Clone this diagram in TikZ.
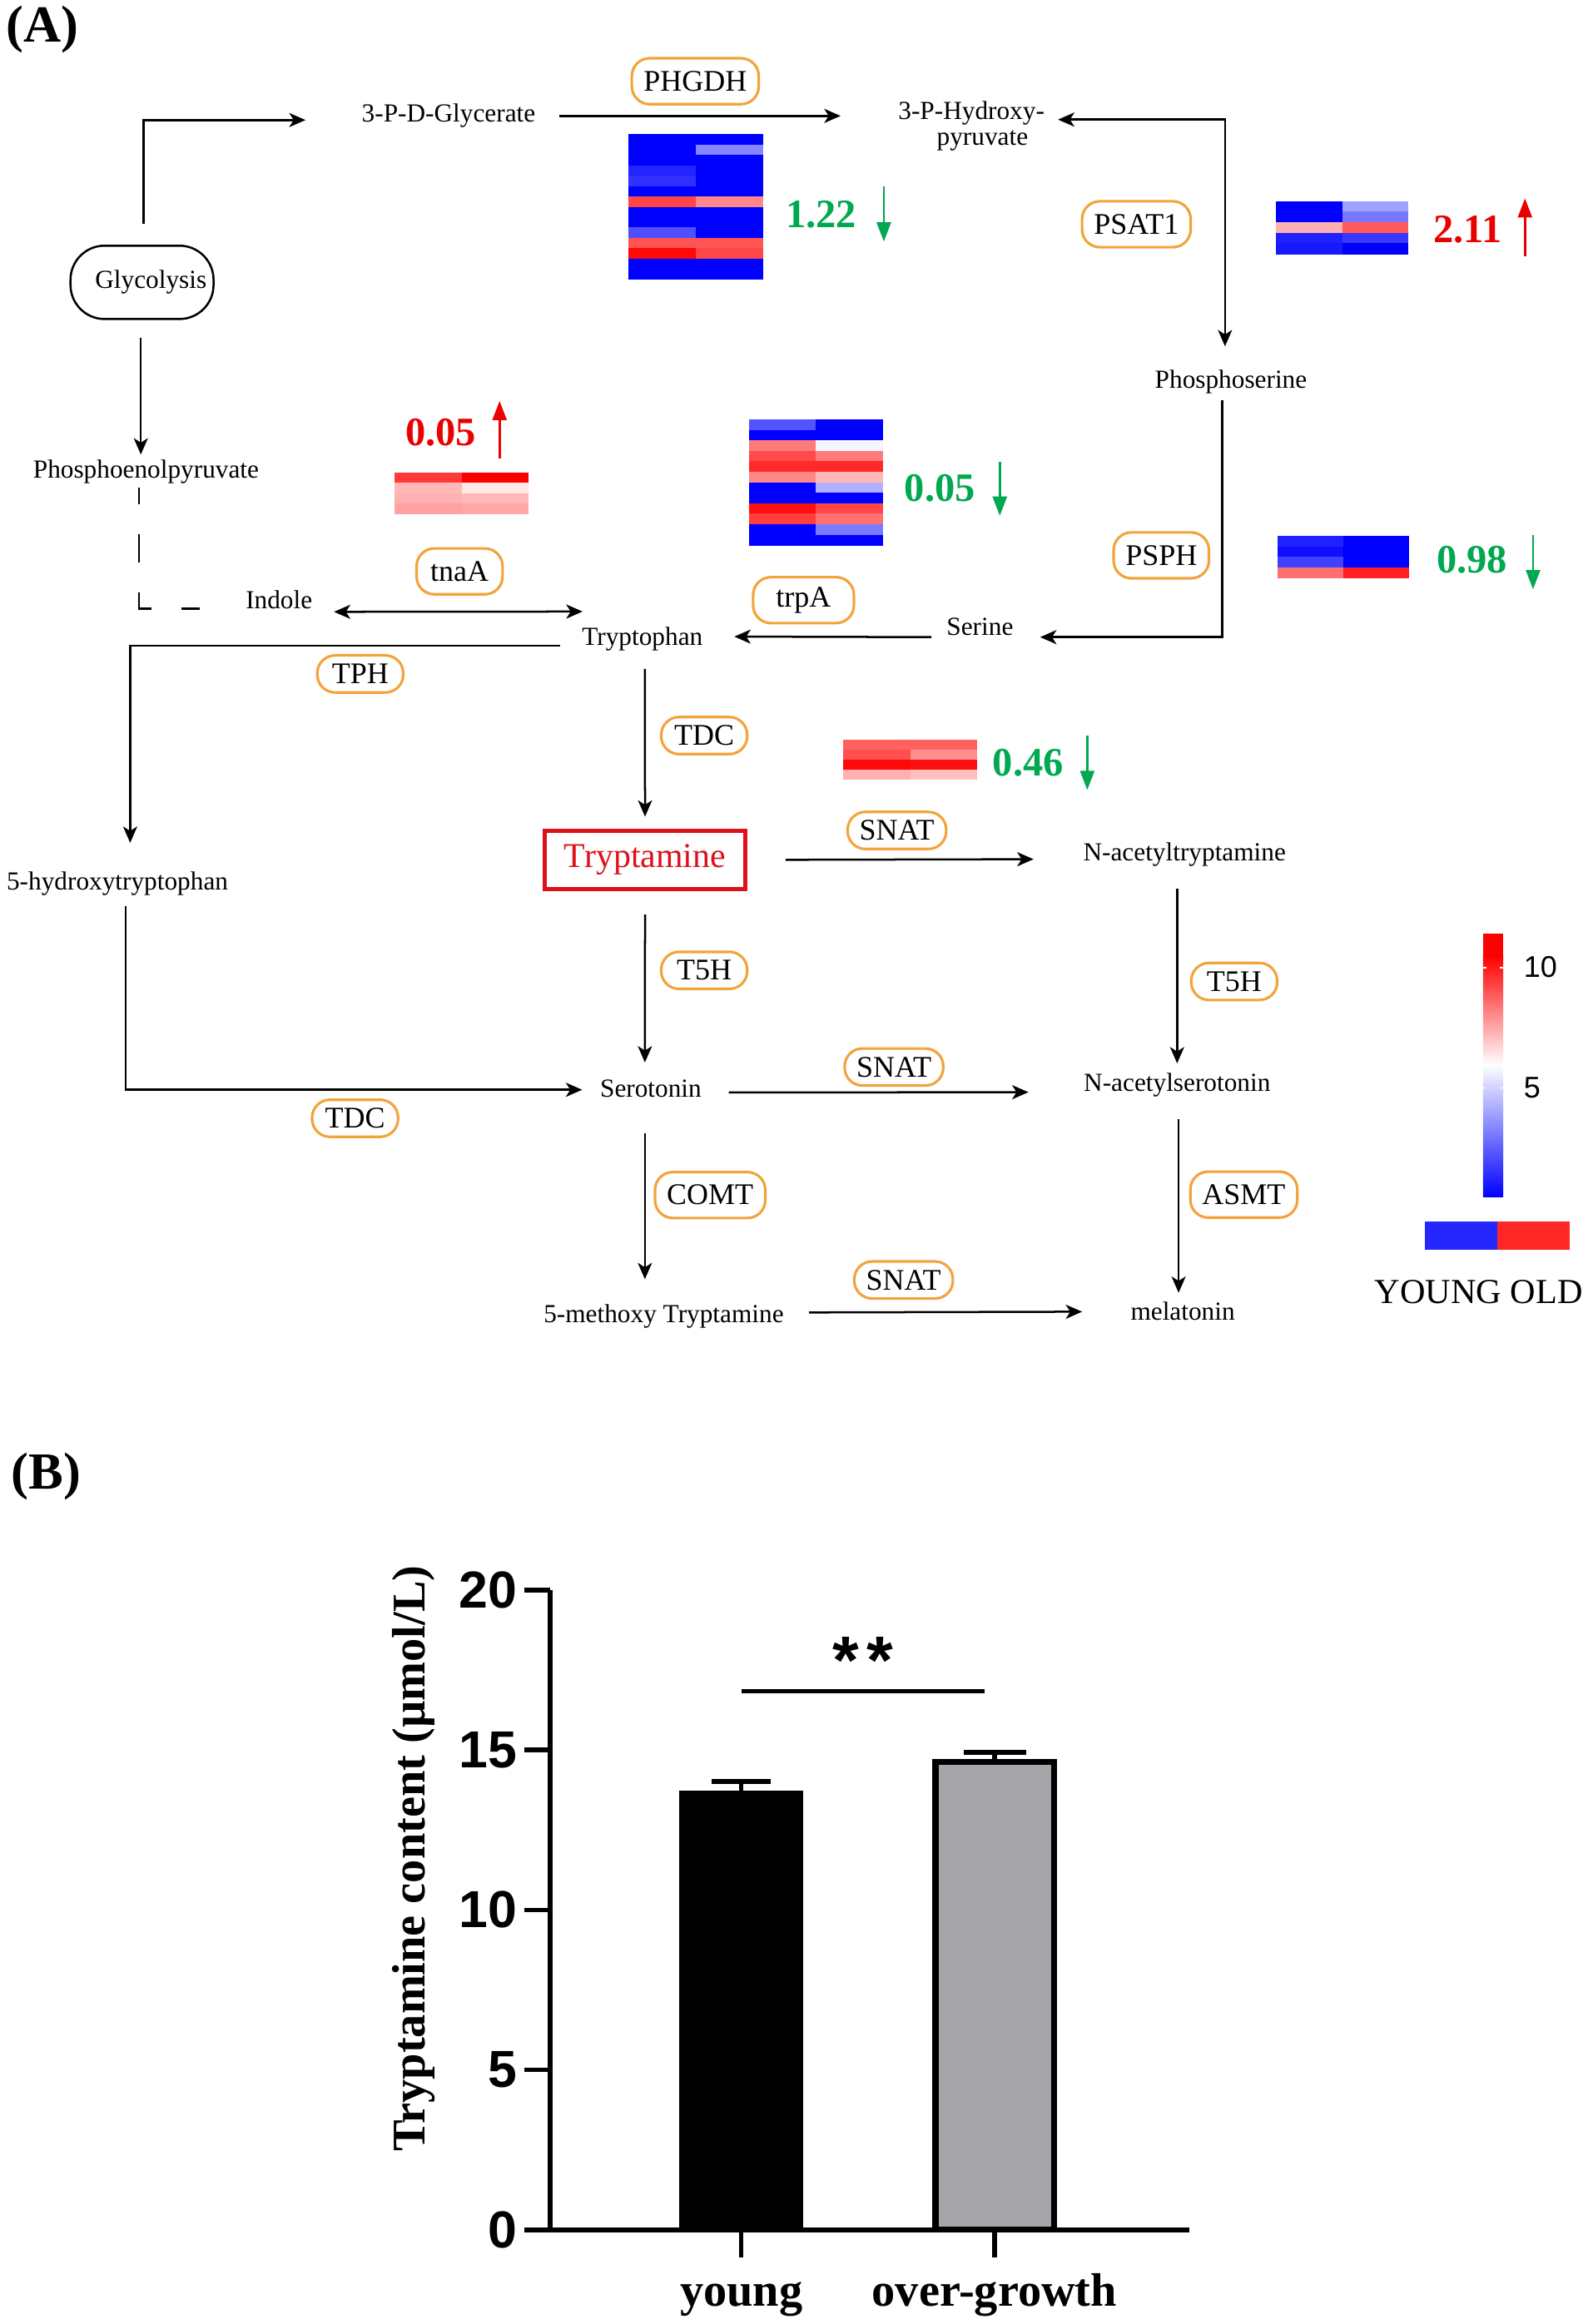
\documentclass[tikz,border=0pt]{standalone}
\usepackage{fontspec}
\setmainfont{Liberation Serif}
\setsansfont{Liberation Sans}
\usetikzlibrary{arrows.meta,calc}
\definecolor{vgreen}{RGB}{0,168,80}
\definecolor{vred}{RGB}{235,0,0}
\definecolor{orng}{RGB}{242,163,60}
\definecolor{tred}{RGB}{222,16,26}
\definecolor{lgblue}{RGB}{38,38,255}
\definecolor{lgred}{RGB}{255,38,38}
\definecolor{bargray}{RGB}{165,165,170}
\newcommand{\heatmap}[5]{%
  \foreach \cl/\cr [count=\i from 0] in {#5}{%
    \fill[\cl] (#1,#2+\i*#4) rectangle (#1+#3/2+0.3,#2+\i*#4+#4+0.3);
    \fill[\cr] (#1+#3/2,#2+\i*#4) rectangle (#1+#3,#2+\i*#4+#4+0.3);
  }%
}
\begin{document}
\begin{tikzpicture}[x=0.02cm,y=-0.02cm,
    >={Stealth[length=2.2mm,width=1.9mm,inset=0.6mm]},
    met/.style={inner sep=0pt,anchor=base,font=\fontsize{10}{10}\selectfont},
    enz/.style={draw=orng,line width=1pt,rounded corners=2.4mm,inner xsep=1.6mm,inner ysep=0pt,
      minimum width=11.6mm,minimum height=6.2mm,font=\fontsize{11.5}{11.5}\selectfont},
    enzs/.style={enz,minimum height=5mm},
    arr/.style={->,line width=0.8pt},
    dashln/.style={line width=0.8pt,dash pattern=on 3.8mm off 4.1mm,dash phase=1.6mm},
    val/.style={inner sep=0pt,font=\fontsize{15.5}{15.5}\selectfont\bfseries},
    varr/.style={-{Triangle[length=2.6mm,width=1.9mm]},line width=0.9pt},
    axline/.style={line width=0.62mm},
    panel/.style={inner sep=0pt,font=\fontsize{20}{20}\selectfont\bfseries}]
  \useasboundingbox (0,0) rectangle (1074,1568);

  \node[panel] (lbla) at (28.6,20.1) {(A)};
  \node[panel] (lblb) at (31,996.3) {(B)};

  \node[draw,line width=0.8pt,rounded corners=4.6mm,minimum width=19.3mm,minimum height=9.9mm,
    inner sep=0pt,font=\fontsize{10}{10}\selectfont] (glyc) at (95.8,190.5) {\hspace*{2.4mm}Glycolysis};
  \node[met] (gly) at (302.6,82.4) {3-P-D-Glycerate};
  \node[met,anchor=west,align=left] (hp) at (605.6,85.2) {3-P-Hydroxy-\\\hspace*{5.2mm}pyruvate};
  \node[met] (ps) at (830.3,262) {Phosphoserine};
  \node[met] (pep) at (98.5,322.8) {Phosphoenolpyruvate};
  \node[met] (ind) at (188.2,410.8) {Indole};
  \node[met] (trp) at (433.3,435.5) {Tryptophan};
  \node[met] (ser) at (661,428.6) {Serine};
  \node[met] (htp) at (79.2,600.5) {5-hydroxytryptophan};
  \node[draw=tred,line width=1.5pt,minimum width=27.1mm,minimum height=7.85mm,inner sep=0pt,
    text=tred,font=\fontsize{13.4}{13.4}\selectfont] (tpm) at (435.1,580.1) {Tryptamine};
  \node[met] (nat) at (799,581) {N-acetyltryptamine};
  \node[met] (sero) at (439,740) {Serotonin};
  \node[met] (nas) at (794,736.3) {N-acetylserotonin};
  \node[met] (mtt) at (447.7,892.6) {5-methoxy Tryptamine};
  \node[met] (mel) at (797.8,890.4) {melatonin};

  \node[enz] (phgdh) at (469,54.8) {PHGDH};
  \node[enz] (psat) at (766.5,151.3) {PSAT1};
  \node[enz] (tnaa) at (310,385.5) {tnaA};
  \node[enz,minimum width=13.6mm] (trpa) at (542,404.9) {trpA};
  \node[enz] (psph) at (783.3,374.7) {PSPH};
  \node[enzs] (tph) at (243,454.7) {TPH};
  \node[enzs] (tdca) at (475,496.3) {TDC};
  \node[enzs] (snata) at (605,560.3) {SNAT};
  \node[enzs] (tfha) at (475,654.7) {T5H};
  \node[enzs] (tfhb) at (832.5,662.2) {T5H};
  \node[enzs] (snatb) at (603,719.9) {SNAT};
  \node[enzs] (tdcb) at (239.5,754.5) {TDC};
  \node[enz] (comt) at (479,806.3) {COMT};
  \node[enz] (asmt) at (839,806) {ASMT};
  \node[enzs] (snatc) at (609.5,863.6) {SNAT};

  \draw[arr] ($(glyc.north)+(1,-14)$) |- ($(gly.west)+(-37.6,2.8)$);
  \draw[arr] ($(gly.east)+(16,0)$) -- ($(gly.east -| hp.west)+(-38.6,0)$);
  \draw[<->,line width=0.8pt] ($(hp.east)+(8.8,-4.5)$) -| ($(ps.north)+(-4,-15.8)$);
  \draw[arr] ($(ps.south)+(-5.8,3.7)$) |- ($(ser.east)+(17.8,7)$);
  \draw[arr] ($(ser.west)+(-10,7)$) -- ($(trp.east)+(21,-1.8)$);
  \draw[arr] ($(glyc.south)+(-0.8,12.2)$) -- ($(pep.north)+(-3.5,-3.6)$);
  \draw[dashln] ($(pep.south)+(-4.7,2)$) |- ($(ind.west)+(-30.4,5.8)$);
  \draw[<->,line width=0.8pt] ($(ind.east)+(14.3,8)$) -- ($(trp.west)+(0.7,-18.7)$);
  \draw[arr] ($(trp.west)+(-14.5,4.3)$) -| ($(htp.north)+(8.6,-19.3)$);
  \draw[arr] ($(trp.south)+(1.7,11.7)$) -- ($(tpm.north)+(0,-8.2)$);
  \draw[arr] ($(tpm.east)+(25.8,0)$) -- ($(nat.west)+(-33.2,2.9)$);
  \draw[arr] ($(tpm.south)+(0,16)$) -- ($(sero.north)+(-4,-11.2)$);
  \draw[arr] ($(htp.south)+(5.7,6.7)$) |- ($(sero.west)+(-11.8,1)$);
  \draw[arr] ($(sero.east)+(18,2.8)$) -- ($(nas.west)+(-37,4.8)$);
  \draw[arr] ($(nat.south)+(-5,14.2)$) -- ($(nas.north)+(0,-6.3)$);
  \draw[arr] ($(sero.south)+(-4,24)$) -- ($(mtt.north)+(-12.7,-17)$);
  \draw[arr] ($(nas.south)+(1,14.5)$) -- ($(mel.north)+(-2.8,-5.6)$);
  \draw[arr] ($(mtt.east)+(16.8,-2.9)$) -- ($(mel.west)+(-32.4,0.6)$);

  \heatmap{424}{90.6}{90.6}{6.99}{blue/blue,blue/blue!47,blue/blue,blue!86/blue,blue!81/blue,blue/blue,
    red!73/red!47,blue/blue,blue/blue,blue!69/blue,red!67/red!67,red!97/red!72,blue/blue,blue/blue}
  \heatmap{860.8}{135.7}{89.2}{7.12}{blue/blue!37,blue/blue!53,red!31/red!65,blue!87/blue!78,blue!90/blue}
  \heatmap{266}{318.7}{90.6}{7.03}{red!78/red,red!28/red!9,red!31/red!28,red!37/red!34}
  \heatmap{505}{283}{90.7}{7.07}{blue!67/blue,blue/blue,red!52/blue!4,red!71/red!52,red!83/red!84,
    red!47/red!28,blue/blue!31,blue/blue,red!94/red!72,red!76/red!56,blue/blue!52,blue/blue}
  \heatmap{862}{361.8}{88.7}{6.98}{blue!87/blue,blue!94/blue,blue!75/blue,red!56/red!87}
  \heatmap{568.8}{499.2}{90.4}{6.7}{red!62/red!62,red!69/red!44,red!96/red!94,red!31/red!25}

  \node[val,text=vgreen] (v122) at (553.8,144.6) {1.22};
  \node[val,text=vred] (v211) at (990,155) {2.11};
  \node[val,text=vred] (v005r) at (297.3,292) {0.05};
  \node[val,text=vgreen] (v005g) at (634,329.4) {0.05};
  \node[val,text=vgreen] (v098) at (993,377.5) {0.98};
  \node[val,text=vgreen] (v046) at (693.5,514.7) {0.46};
  \draw[varr,vgreen] ($(v122.east)+(18.2,-18.6)$) -- ($(v122.east)+(18.2,18.4)$);
  \draw[varr,vred] ($(v211.east)+(15.2,18)$) -- ($(v211.east)+(15.2,-21.2)$);
  \draw[varr,vred] ($(v005r.east)+(15.5,17.2)$) -- ($(v005r.east)+(15.5,-21.5)$);
  \draw[varr,vgreen] ($(v005g.east)+(16.2,-17.8)$) -- ($(v005g.east)+(16.2,18.6)$);
  \draw[varr,vgreen] ($(v098.east)+(16.9,-16.7)$) -- ($(v098.east)+(16.9,20.1)$);
  \draw[varr,vgreen] ($(v046.east)+(15.7,-18.3)$) -- ($(v046.east)+(15.7,18.3)$);

  \fill[red] (1000.4,630) rectangle (1014,645.5);
  \shade[top color=red,bottom color=white] (1000.4,645) rectangle (1014,718.5);
  \shade[top color=white,bottom color=blue] (1000.4,718.3) rectangle (1014,807.6);
  \draw[white,line width=0.6pt] (1000.4,653) -- ++(2.5,0) (1014,653) -- ++(-2.5,0)
    (1000.4,734) -- ++(2.5,0) (1014,734) -- ++(-2.5,0);
  \node[anchor=west,inner sep=0pt,font=\sffamily\fontsize{11.5}{11.5}\selectfont] (cbten) at (1027.5,652.3) {10};
  \node[anchor=west,inner sep=0pt,font=\sffamily\fontsize{11.5}{11.5}\selectfont] (cbfive) at (1027.5,734) {5};
  \fill[lgblue] (961.3,824) rectangle (1010.3,843.4);
  \fill[lgred] (1010,824) rectangle (1059,843.4);
  \node[anchor=base,inner sep=0pt,font=\fontsize{13.5}{13.5}\selectfont] (yo) at (997.5,879.6) {YOUNG OLD};

  \fill[black] (458,1504.4) rectangle (542,1208.3);
  \filldraw[fill=bargray,draw=black,line width=0.8mm] (631,1504.4) rectangle (711,1189);
  \draw[axline] (500,1208.3) -- (500,1202) (480,1202) -- (520,1202);
  \draw[axline] (671,1189) -- (671,1182.3) (650,1182.3) -- (692,1182.3);
  \foreach \v in {0,5,10,15,20}{
    \draw[axline] (353.5,1504.4-21.58*\v) -- (371,1504.4-21.58*\v);
    \node[anchor=east,inner sep=0pt,font=\sffamily\bfseries\fontsize{20}{20}\selectfont] (yt\v) at (349,1504.4-21.58*\v) {\v};
  }
  \draw[axline] (371,1072.7) -- (371,1504.4) -- (802,1504.4);
  \draw[axline] (500,1504.4) -- (500,1523);
  \draw[axline] (670.8,1504.4) -- (670.8,1523);
  \node[anchor=base,inner sep=0pt,font=\bfseries\fontsize{18}{18}\selectfont] (xyoung) at (500,1556) {young};
  \node[anchor=base,inner sep=0pt,font=\bfseries\fontsize{18}{18}\selectfont] (xog) at (670.8,1556) {over-growth};
  \node[rotate=90,inner sep=0pt,font=\bfseries\fontsize{18}{18}\selectfont] (ylab) at (279,1254) {Tryptamine content (µmol/L)};
  \draw[line width=0.6mm] (500,1141) -- (664,1141);
  \node[anchor=base,inner sep=0pt,font=\sffamily\bfseries\fontsize{26}{26}\selectfont] (sig) at (582,1136) {*\hspace{0.12em}*};
\end{tikzpicture}
\end{document}
